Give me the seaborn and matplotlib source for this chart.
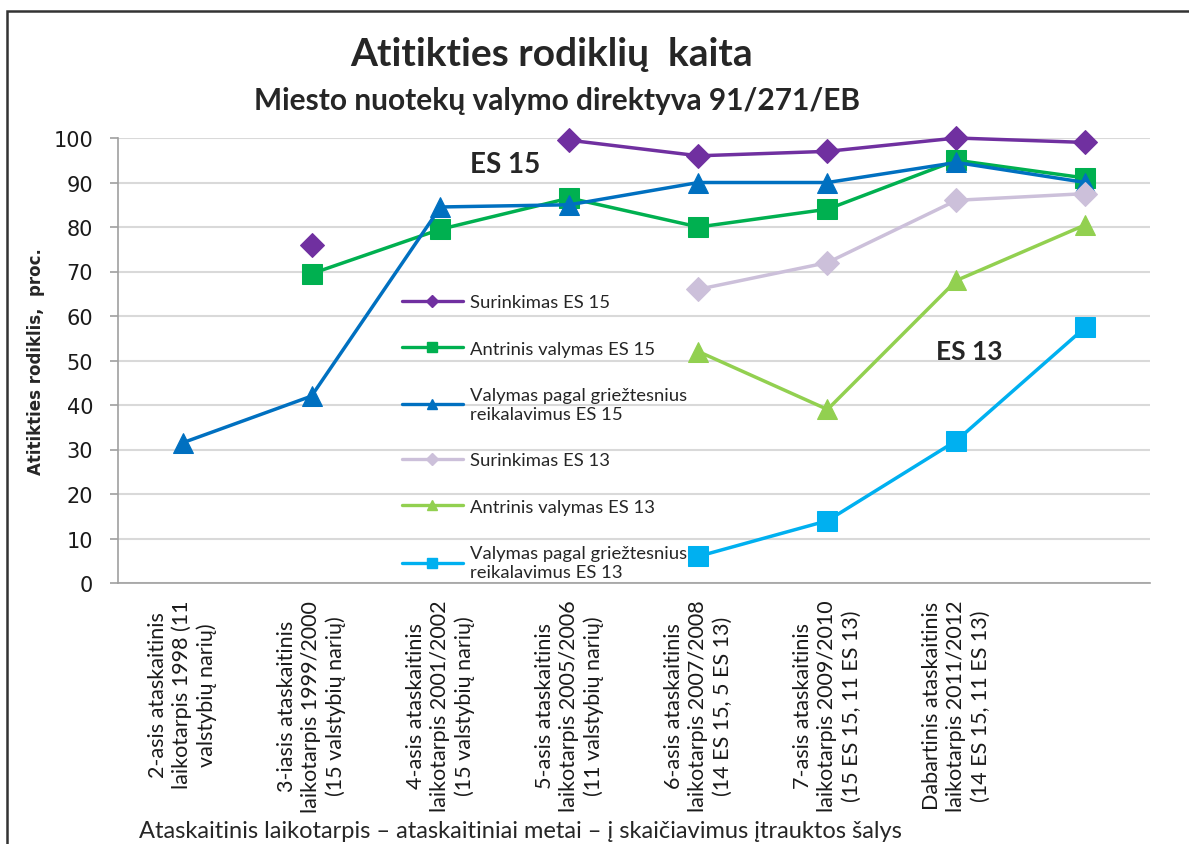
import numpy as np
import pandas as pd
import seaborn as sns
import matplotlib.pyplot as plt
from matplotlib.lines import Line2D
from matplotlib.patches import Rectangle

# Duomenys (nuskaityti nuo paveikslo)
kategorijos = [
    "2-asis ataskaitinis\nlaikotarpis 1998 (11\nvalstybių narių)",
    "3-iasis ataskaitinis\nlaikotarpis 1999/2000\n(15 valstybių narių)",
    "4-asis ataskaitinis\nlaikotarpis 2001/2002\n(15 valstybių narių)",
    "5-asis ataskaitinis\nlaikotarpis 2005/2006\n(11 valstybių narių)",
    "6-asis ataskaitinis\nlaikotarpis 2007/2008\n(14 ES 15, 5 ES 13)",
    "7-asis ataskaitinis\nlaikotarpis 2009/2010\n(15 ES 15, 11 ES 13)",
    "Dabartinis ataskaitinis\nlaikotarpis 2011/2012\n(14 ES 15, 11 ES 13)",
    "",
]
surinkimas_es15 = [np.nan, 76, np.nan, 99.5, 96, 97, 100, 99]
antrinis_es15 = [np.nan, 69.5, 79.5, 86.5, 80, 84, 95, 91]
grieztesnis_es15 = [31.5, 42, 84.5, 85, 90, 90, 94.5, 90]
surinkimas_es13 = [np.nan, np.nan, np.nan, np.nan, 66, 72, 86, 87.5]
antrinis_es13 = [np.nan, np.nan, np.nan, np.nan, 52, 39, 68, 80.5]
grieztesnis_es13 = [np.nan, np.nan, np.nan, np.nan, 6, 14, 32, 57.5]

serijos = [
    ("Surinkimas ES 15", surinkimas_es15, "#7030A0", "D", 12),
    ("Antrinis valymas ES 15", antrinis_es15, "#00B050", "s", 14),
    ("Valymas pagal griežtesnius\nreikalavimus ES 15", grieztesnis_es15, "#0070C0", "^", 15),
    ("Surinkimas ES 13", surinkimas_es13, "#CCC0DA", "D", 12),
    ("Antrinis valymas ES 13", antrinis_es13, "#92D050", "^", 15),
    ("Valymas pagal griežtesnius\nreikalavimus ES 13", grieztesnis_es13, "#00B0F0", "s", 14),
]

sns.set_style("white")
plt.rcParams['font.family'] = ['Lato', 'DejaVu Sans']

fig = plt.figure(figsize=(11.89, 8.45), dpi=100)
ax = fig.add_axes([118 / 1189, 1 - 584 / 845, 1032 / 1189, 445 / 845])

x = np.arange(len(kategorijos))
rankenos = []
for pavadinimas, reiksmes, spalva, zymeklis, dydis in serijos:
    df = pd.DataFrame({"x": x, "y": reiksmes}).dropna()
    df["seg"] = (df["x"].diff() > 1).cumsum()
    sns.lineplot(data=df, x="x", y="y", units="seg", estimator=None,
                 color=spalva, marker=zymeklis, markersize=dydis,
                 markeredgecolor=spalva, linewidth=2.5, ax=ax, legend=False,
                 clip_on=False)
    rankenos.append(Line2D([0], [0], color=spalva, marker=zymeklis, markersize=6.5,
                           linewidth=2.4, label=pavadinimas))

ax.set_xlim(-0.5, len(kategorijos) - 0.5)
ax.set_ylim(0, 100)
ax.set_yticks(range(0, 101, 10))
ax.set_yticklabels([str(v) for v in range(0, 101, 10)], family='DejaVu Sans',
                   fontsize=15, color='#1a1a1a')
ax.set_xticks(x)
ax.set_xticklabels(kategorijos, rotation=90, fontsize=15.5, va='top',
                   ha='center', multialignment='center', color='#1a1a1a',
                   linespacing=1.25)
ax.set_xticks(np.arange(-0.5, len(kategorijos)), minor=True)
ax.tick_params(axis='x', which='major', length=0, pad=12)
ax.tick_params(axis='x', which='minor', length=7, color='#a0a0a0', width=1.2, direction='out')
ax.tick_params(axis='y', length=6, color='#a0a0a0', width=1.2, direction='out', left=True, pad=12)
ax.grid(axis='y', color='#d9d9d9', linewidth=1.5)
ax.set_axisbelow(True)
for s in ['top', 'right']:
    ax.spines[s].set_visible(False)
for s in ['left', 'bottom']:
    ax.spines[s].set_color('#a0a0a0')
    ax.spines[s].set_linewidth(1.2)
ax.set_xlabel("")
ax.set_ylabel("Atitikties rodiklis,  proc.", family='DejaVu Sans', fontsize=12,
              fontweight='bold', labelpad=6)

ax.legend(handles=rankenos, loc='upper left', bbox_to_anchor=(0.275, 0.649),
          frameon=False, fontsize=13.3, handlelength=3.3, labelspacing=1.65,
          borderaxespad=0, borderpad=0, handletextpad=0.4)

ax.text(2.5, 94.2, "ES 15", fontsize=20, fontweight='bold', ha='center', va='center')
ax.text(6.1, 52.1, "ES 13", fontsize=19, fontweight='bold', ha='center', va='center')

fig.text(552 / 1189, 1 - 55 / 845, "Atitikties rodiklių  kaita", fontsize=28,
         fontweight='bold', ha='center', va='center')
fig.text(557 / 1189, 1 - 101 / 845, "Miesto nuotekų valymo direktyva 91/271/EB",
         fontsize=21.5, fontweight='bold', ha='center', va='center')
fig.text(520 / 1189, 1 - 832 / 845,
         "Ataskaitinis laikotarpis – ataskaitiniai metai – į skaičiavimus įtrauktos šalys",
         fontsize=17, ha='center', va='center')

fig.patches.append(Rectangle((7 / 1189, -0.1), 1.2, 1 - 12 / 845 + 0.1, transform=fig.transFigure,
                             fill=False, edgecolor='#333333', linewidth=1.8))

fig.savefig("out.png", dpi=100)
